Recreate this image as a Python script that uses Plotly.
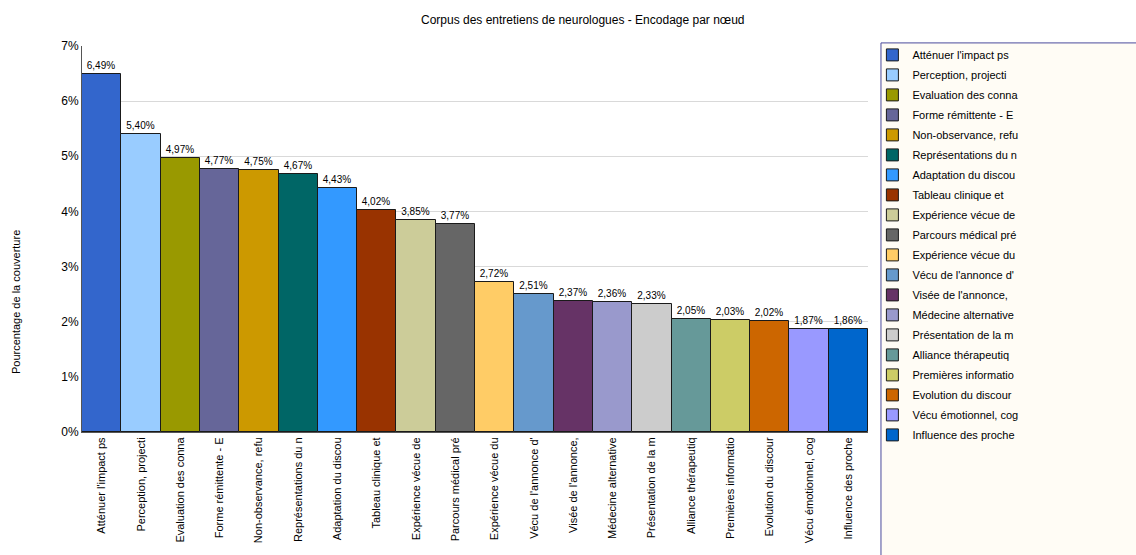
import plotly.graph_objects as go

# categories (truncated node names, as displayed)
noeuds = [
    "Atténuer l'impact ps", "Perception, projecti", "Evaluation des conna",
    "Forme rémittente - E", "Non-observance, refu", "Représentations du n",
    "Adaptation du discou", "Tableau clinique et", "Expérience vécue de",
    "Parcours médical pré", "Expérience vécue du", "Vécu de l'annonce d'",
    "Visée de l'annonce,", "Médecine alternative", "Présentation de la m",
    "Alliance thérapeutiq", "Premières informatio", "Evolution du discour",
    "Vécu émotionnel, cog", "Influence des proche",
]
couverture = [6.49, 5.40, 4.97, 4.77, 4.75, 4.67, 4.43, 4.02, 3.85, 3.77,
              2.72, 2.51, 2.37, 2.36, 2.33, 2.05, 2.03, 2.02, 1.87, 1.86]
couleurs = ["#3366CC", "#99CCFF", "#999900", "#666699", "#CC9900", "#006666",
            "#3399FF", "#993300", "#CCCC99", "#666666", "#FFCC66", "#6699CC",
            "#663366", "#9999CC", "#CCCCCC", "#669999", "#CCCC66", "#CC6600",
            "#9999FF", "#0066CC"]
y_ticks = [0, 1, 2, 3, 4, 5, 6, 7]

fig = go.Figure()
for i, (nom, val, col) in enumerate(zip(noeuds, couverture, couleurs)):
    fig.add_trace(go.Bar(
        x=[nom], y=[val], name=nom, width=1,
        marker=dict(color=col, line=dict(color="#1a1a1a", width=1)),
        text=[f"{val:.2f}".replace(".", ",") + "%"],
        textposition="outside", cliponaxis=False,
        textfont=dict(size=10, color="#000"),
        legendgroup=f"g{i}",
    ))

# legend box background
fig.add_shape(type="rect", xref="paper", yref="paper",
              x0=1.0165, x1=1.36, y0=-0.34, y1=1.008,
              fillcolor="#FFFCF5", line=dict(color="#4B4B9B", width=1),
              layer="below")

fig.add_annotation(text="Pourcentage de la couverture", xref="paper", yref="paper",
                   x=-0.083, xanchor="center", y=0.336, yanchor="middle",
                   textangle=-90, showarrow=False,
                   font=dict(size=11, color="#000"))

fig.update_layout(
    width=1136, height=555,
    margin=dict(l=82, r=268, t=46, b=121),
    paper_bgcolor="white", plot_bgcolor="white",
    font=dict(family="Liberation Sans, Arial, sans-serif", size=11, color="#000"),
    title=dict(text="Corpus des entretiens de neurologues - Encodage par nœud",
               x=0.513, xanchor="center", y=0.965, yanchor="middle",
               font=dict(size=12, color="#000")),
    barmode="overlay", bargap=0,
    showlegend=True,
    legend=dict(x=1.0056, xanchor="left", y=1.0145, yanchor="top",
                bgcolor="rgba(0,0,0,0)", borderwidth=0,
                font=dict(size=11, color="#000"), maxheight=540,
                itemwidth=30, tracegroupgap=1, traceorder="grouped"),
)
fig.update_xaxes(tickangle=-90, showline=True, linecolor="#555", linewidth=1,
                 ticks="", tickfont=dict(size=11, color="#000"),
                 range=[-0.5, len(noeuds) - 0.5])
fig.update_yaxes(range=[0, 7], tickvals=y_ticks,
                 ticktext=[f"{t}%" for t in y_ticks],
                 showgrid=True, gridcolor="#D9D9D9", gridwidth=1,
                 showline=True, linecolor="#555", linewidth=1,
                 zeroline=False, ticks="", tickfont=dict(size=12, color="#000"))

fig.write_html("out.html", config={"displayModeBar": False},
               post_script="document.body.style.margin='0';")
